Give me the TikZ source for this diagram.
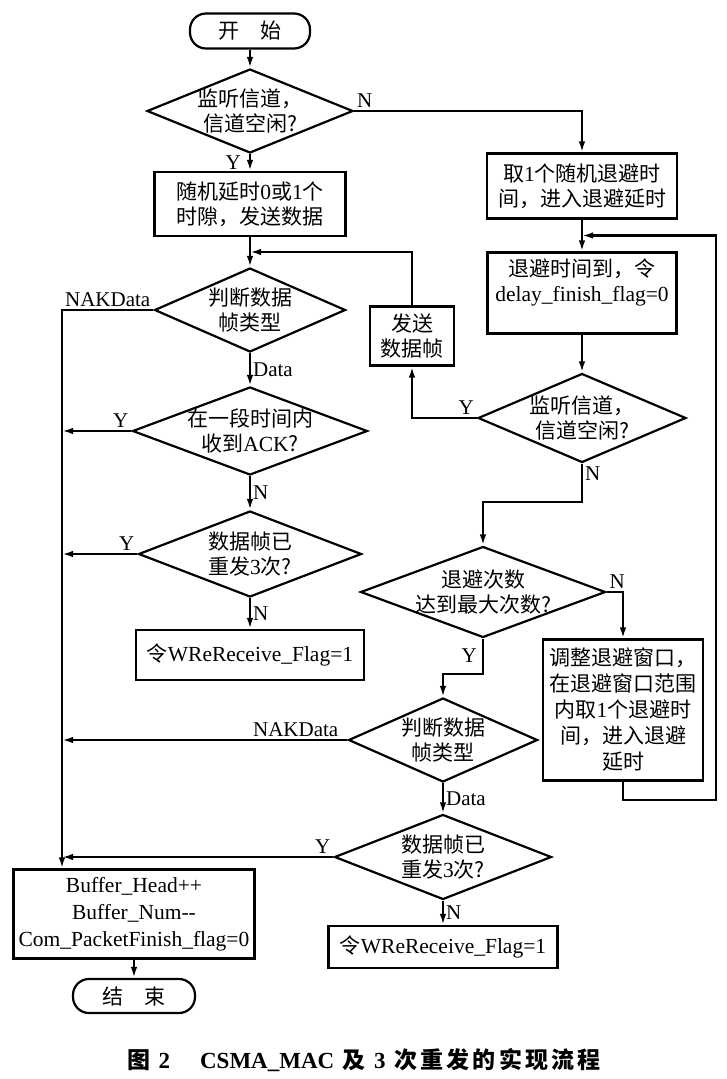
\documentclass[tikz,border=0pt]{standalone}
\usepackage{fontspec}
\setmainfont{Liberation Serif}
\newfontfamily\cjk{Noto Sans CJK SC}
\newfontfamily\cjkcap[LetterSpace=14]{Noto Sans CJK SC}
\usetikzlibrary{shapes.geometric,arrows.meta,calc}
\newcommand{\en}[1]{{\rmfamily\fontsize{21.5}{25}\selectfont #1}}

\begin{document}
\begin{tikzpicture}[x=1pt, y=-1pt, align=center, line width=2.2pt,
  >={Latex[length=11pt,width=6.5pt]},
  zh/.style={font=\fontsize{21}{25}\selectfont\cjk},
  latin/.style={font=\fontsize{21.5}{27}\selectfont},
  terminal/.style={draw, zh, rounded corners=16pt, minimum height=35pt, inner sep=0pt},
  box/.style={draw, zh, inner sep=0pt},
  decide/.style={draw, zh, diamond, aspect=2.4, inner sep=-11pt},
  tag/.style={font=\fontsize{21}{23}\selectfont, inner sep=2pt}]
\useasboundingbox (0,0) rectangle (727,1079);

% left column
\node[terminal, minimum width=120pt] (start) at (250,31) {开\quad 始};
\node[decide, minimum width=206pt, minimum height=84pt] (listen) at (250,111) {监听信道，\\信道空闲?};
\node[box, minimum width=191pt, minimum height=64pt] (delay) at (250,204) {随机延时\en{0}或\en{1}个\\时隙，发送数据};
\node[decide, minimum width=191pt, minimum height=84pt] (type1) at (250,310) {判断数据\\帧类型};
\node[decide, minimum width=235pt, minimum height=88pt] (ack) at (250,431) {在一段时间内\\收到\en{ACK}?};
\node[decide, minimum width=223pt, minimum height=86pt] (resend1) at (250,554) {数据帧已\\重发\en{3}次?};
\node[box, minimum width=228pt, minimum height=50pt] (flag1) at (250,655) {令\en{WReReceive\_Flag=1}};
\node[box, latin, minimum width=241pt, minimum height=89pt] (buffer) at (134,914) {Buffer\_Head++\\Buffer\_Num-{}-\\Com\_PacketFinish\_flag=0};
\node[terminal, minimum width=122pt, minimum height=34pt] (stop) at (134,996) {结\quad 束};

% right column
\node[box, minimum width=190pt, minimum height=65pt] (backoff) at (582,186) {取\en{1}个随机退避时\\间，进入退避延时};
\node[box, minimum width=189pt, minimum height=81pt] (expire) at (582,293) {退避时间到，令\\\en{delay\_finish\_flag=0}\\\mbox{}};
\node[box, minimum width=84pt, minimum height=59pt] (send) at (412,336) {发送\\数据帧};
\node[decide, minimum width=208pt, minimum height=89pt] (listen2) at (582,418) {监听信道，\\信道空闲?};
\node[decide, minimum width=245pt, minimum height=91pt] (count) at (483,592) {退避次数\\达到最大次数?};
\node[box, minimum width=160pt, minimum height=141pt, font=\fontsize{21}{26}\selectfont\cjk] (adjust) at (623,710) {调整退避窗口，\\在退避窗口范围\\内取\en{1}个退避时\\间，进入退避\\延时};
\node[decide, minimum width=189pt, minimum height=84pt] (type2) at (443,740) {判断数据\\帧类型};
\node[decide, minimum width=217pt, minimum height=85pt] (resend2) at (443,857) {数据帧已\\重发\en{3}次?};
\node[box, minimum width=229pt, minimum height=42pt] (flag2) at (443,947) {令\en{WReReceive\_Flag=1}};

\node[font=\fontsize{23}{25}\selectfont\bfseries\cjkcap] (caption) at (364,1060) {图 {\rmfamily\bfseries 2}\hspace{1.3em}{\rmfamily\bfseries CSMA\_MAC} 及 {\rmfamily\bfseries 3} 次重发的实现流程};

\coordinate (rail) at (62,0);
\coordinate (join1) at ($(delay.south)!0.5!(type1.north)$);
\coordinate (join2) at ($(backoff.south)!0.5!(expire.north)$);
\coordinate (loop) at (716,800);

% connectors
\draw[->] (start) -- (listen);
\draw[->] (listen) -- node[tag, left, xshift=-6pt]{Y} (delay);
\draw[->] (listen.east) node[tag, above right]{N} -| (backoff.north);
\draw[->] (delay) -- (type1);
\draw[->] (send.north) |- (join1);
\draw[->] (type1.west) node[tag, above left]{NAKData} -- (type1.west -| rail) -- (buffer.north -| rail);
\draw[->] (type1) -- node[tag, right]{Data} (ack);
\draw[->] (ack.west) node[tag, above left]{Y} -- (ack.west -| rail);
\draw[->] (ack) -- node[tag, right]{N} (resend1);
\draw[->] (resend1.west) node[tag, above left]{Y} -- (resend1.west -| rail);
\draw[->] (resend1) -- node[tag, right]{N} (flag1);
\draw[->] (backoff) -- (expire);
\draw[->] (expire) -- (listen2);
\draw[->] (listen2.west) node[tag, above left]{Y} -| (send.south);
\draw[->] (listen2.south) node[tag, below right]{N} -- ++(0,38) -| (count.north);
\draw[->] (count.east) node[tag, above right]{N} -| (adjust.north);
\draw[->] (adjust.south) |- (loop) |- (join2);
\draw[->] (count.south) -- node[tag, left, xshift=-3pt]{Y} ++(0,35) -| (type2.north);
\draw[->] (type2.west) node[tag, above left, xshift=-6pt]{NAKData} -- (type2.west -| rail);
\draw[->] (type2) -- node[tag, right]{Data} (resend2);
\draw[->] (resend2.west) node[tag, above left]{Y} -- (resend2.west -| rail);
\draw[->] (resend2) -- node[tag, right]{N} (flag2);
\draw[->] (buffer) -- (stop);
\end{tikzpicture}
\end{document}
